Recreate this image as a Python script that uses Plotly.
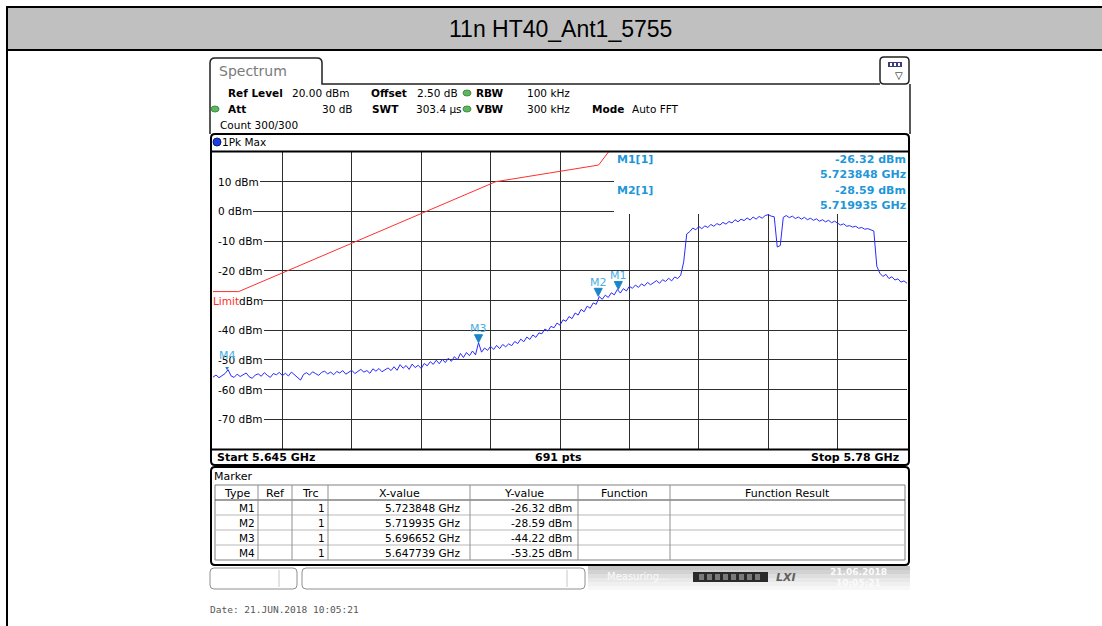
import numpy as np
import plotly.graph_objects as go

W, H = 1102, 626
FONT = "DejaVu Sans"
MONO = "DejaVu Sans Mono"
MARK_BLUE = "#1f97d9"
TRI_BLUE = "#1a86c8"

# ---- sweep definition -------------------------------------------------------
START_GHZ = 5.645
STOP_GHZ = 5.78
SWEEP_POINTS = 691
REF_LEVEL_DBM = 20
BOTTOM_DBM = -80

# Peak-hold trace (dBm), every third sweep point
trace_dbm = [
    -55.8, -55.1, -56.0, -55.2, -54.6, -53.3, -55.4, -55.9, -54.8, -55.6,
    -55.0, -54.4, -55.7, -56.2, -55.1, -54.7, -55.5, -54.3, -55.2, -55.9,
    -54.6, -55.0, -54.2, -55.3, -54.5, -55.4, -54.1, -55.0, -55.8, -56.8,
    -54.9, -54.3, -55.1, -54.0, -54.6, -55.2, -54.2, -53.8, -54.7, -54.1,
    -55.0, -53.9, -54.4, -53.6, -54.8, -54.2, -53.5, -54.6, -53.9, -53.2,
    -54.1, -53.6, -54.5, -53.0, -53.8, -52.9, -54.0, -53.4, -52.7, -53.6,
    -52.3, -53.5, -51.6, -52.8, -51.9, -53.2, -51.4, -52.6, -51.8, -52.9,
    -51.2, -52.0, -50.6, -51.5, -50.1, -51.3, -49.8, -50.9, -49.4, -50.5,
    -48.9, -50.0, -47.8, -49.2, -47.5, -48.6, -47.0, -48.3, -44.22, -47.4,
    -46.0, -46.8, -45.4, -46.5, -45.1, -46.2, -44.8, -45.6, -44.6, -45.2,
    -43.8, -44.5, -43.0, -43.9, -42.3, -43.1, -41.6, -42.4, -40.9, -41.2,
    -39.6, -40.3, -38.7, -39.2, -37.6, -38.3, -36.5, -37.0, -35.4, -36.1,
    -34.2, -34.9, -33.0, -33.8, -31.9, -32.6, -30.8, -31.3, -28.7, -29.6,
    -28.2, -29.0, -27.4, -28.1, -26.3, -27.5, -26.0, -26.8, -25.2, -25.9,
    -24.8, -25.6, -24.4, -25.1, -23.9, -24.7, -24.0, -23.3, -24.2, -23.0,
    -23.6, -22.5, -23.4, -22.1, -22.6, -21.5, -17.0, -7.6, -6.8, -5.6,
    -6.2, -5.1, -5.8, -4.9, -5.4, -4.4, -5.0, -4.1, -4.6, -3.7,
    -4.3, -3.4, -3.9, -2.8, -3.5, -2.6, -3.1, -2.2, -2.9, -1.9,
    -2.6, -1.7, -2.3, -1.4, -1.1, -1.6, -1.8, -12.0, -11.5, -2.0,
    -1.4, -2.1, -1.6, -2.4, -1.9, -2.6, -2.0, -2.8, -2.3, -3.0,
    -2.5, -3.3, -2.8, -3.5, -3.0, -3.8, -3.3, -4.1, -4.6, -4.2,
    -5.0, -4.8, -5.3, -5.0, -5.7, -5.4, -6.0, -5.8, -6.3, -6.6,
    -18.5, -20.8, -21.9, -21.2, -22.6, -22.0, -23.1, -22.7, -23.8, -23.4,
    -24.2,
]

# Band-edge emission limit line
limit_ghz = [5.645, 5.650, 5.700, 5.720, 5.725]
limit_dbm = [-27.0, -27.0, 10.0, 15.6, 27.0]

# Markers
marker_names = ["M1", "M2", "M3", "M4"]
marker_ghz = [5.723848, 5.719935, 5.696652, 5.647739]
marker_dbm = [-26.32, -28.59, -44.22, -53.25]

level_ticks = [10, 0, -10, -20, -30, -40, -50, -60, -70]

freq_ghz = np.linspace(START_GHZ, STOP_GHZ, SWEEP_POINTS)[::3][:len(trace_dbm)]

# ---- pixel helpers (paper coordinates span the whole page) ------------------
def fx(x):
    return x / W


def fy(y):
    return 1 - y / H


def gx(x):
    """pixel column -> frequency on the diagram axis"""
    return START_GHZ + (x - 213) / 694 * (STOP_GHZ - START_GHZ)


def gy(y):
    """pixel row -> level on the diagram axis"""
    return REF_LEVEL_DBM - (y - 152) / 297 * (REF_LEVEL_DBM - BOTTOM_DBM)


shapes = []
annotations = []


def text(x, y, s, size=11, color="black", bold=False, anchor="left",
         family=FONT, bg=None):
    annotations.append(dict(
        x=fx(x), y=fy(y), xref="paper", yref="paper",
        text=f"<b>{s}</b>" if bold else s, showarrow=False,
        xanchor=anchor, yanchor="middle", borderpad=0, borderwidth=0,
        font=dict(family=family, size=size, color=color),
        bgcolor=bg))


def line(x0, y0, x1, y1, color="black", width=1):
    shapes.append(dict(type="line", xref="paper", yref="paper",
                       x0=fx(x0), y0=fy(y0), x1=fx(x1), y1=fy(y1),
                       line=dict(color=color, width=width), layer="above"))


def rect(x0, y0, x1, y1, fill=None, color=None, width=1, layer="above"):
    shapes.append(dict(type="rect", xref="paper", yref="paper",
                       x0=fx(x0), y0=fy(y0), x1=fx(x1), y1=fy(y1),
                       fillcolor=fill or "rgba(0,0,0,0)",
                       line=dict(color=color or "rgba(0,0,0,0)",
                                 width=width if color else 0),
                       layer=layer))


def rrect(x0, y0, x1, y1, r, color="black", width=1, fill=None):
    p = (f"M {fx(x0 + r)},{fy(y0)} L {fx(x1 - r)},{fy(y0)} "
         f"Q {fx(x1)},{fy(y0)} {fx(x1)},{fy(y0 + r)} "
         f"L {fx(x1)},{fy(y1 - r)} Q {fx(x1)},{fy(y1)} {fx(x1 - r)},{fy(y1)} "
         f"L {fx(x0 + r)},{fy(y1)} Q {fx(x0)},{fy(y1)} {fx(x0)},{fy(y1 - r)} "
         f"L {fx(x0)},{fy(y0 + r)} Q {fx(x0)},{fy(y0)} {fx(x0 + r)},{fy(y0)} Z")
    shapes.append(dict(type="path", xref="paper", yref="paper", path=p,
                       fillcolor=fill or "rgba(0,0,0,0)",
                       line=dict(color=color, width=width), layer="above"))


def dot(cx, cy, rx, ry, fill, edge):
    shapes.append(dict(type="circle", xref="paper", yref="paper",
                       x0=fx(cx - rx), x1=fx(cx + rx), y0=fy(cy - ry), y1=fy(cy + ry),
                       fillcolor=fill, line=dict(color=edge, width=1), layer="above"))


def plot_mask(x0, y0, x1, y1):
    """white patch over the grid, beneath the traces"""
    shapes.append(dict(type="rect", xref="x", yref="y",
                       x0=gx(x0), x1=gx(x1), y0=gy(y1), y1=gy(y0),
                       fillcolor="white", line=dict(width=0), layer="between"))


# ---- page title band ---------------------------------------------------------
rect(7, 7, W + 2, 50, fill="#c0c0c0")
line(6, 7, W, 7, width=2)
line(6, 50, W, 50, width=2)
line(7, 6, 7, H, width=2)
text(560, 29, "11n HT40_Ant1_5755", size=23, family="Liberation Sans", anchor="center")

# ---- instrument header -------------------------------------------------------
tab = (f"M {fx(210)},{fy(134)} L {fx(210)},{fy(63)} Q {fx(210)},{fy(58)} {fx(215)},{fy(58)} "
       f"L {fx(317)},{fy(58)} Q {fx(322)},{fy(58)} {fx(322)},{fy(63)} L {fx(322)},{fy(84)} "
       f"L {fx(880)},{fy(84)}")
shapes.append(dict(type="path", xref="paper", yref="paper", path=tab,
                   line=dict(color="#202020", width=1.5), layer="above"))
line(910, 84, 910, 134, color="#202020", width=1.5)
rrect(880, 57, 909, 84, 4, color="#202020", width=1.5)
rect(888, 62, 902, 67, fill="#3c3c7c")
for cx in (891, 895, 899):
    rect(cx - 1, 63, cx + 1, 66, fill="white")
text(895, 75, "▽", size=10)
text(219, 71, "Spectrum", size=14, color="#7a7a7a")

HS = 10.5
text(228, 93, "Ref Level", bold=True, size=HS)
text(292, 93, f"{REF_LEVEL_DBM:.2f} dBm", size=HS)
text(371, 93, "Offset", bold=True, size=HS)
text(417, 93, "2.50 dB", size=HS)
text(476, 93, "RBW", bold=True, size=HS)
text(527, 93, "100 kHz", size=HS)
text(228, 109, "Att", bold=True, size=HS)
text(353, 109, "30 dB", anchor="right", size=HS)
text(372, 109, "SWT", bold=True, size=HS)
text(416, 109, "303.4 µs", size=HS)
text(476, 109, "VBW", bold=True, size=HS)
text(527, 109, "300 kHz", size=HS)
text(592, 109, "Mode", bold=True, size=HS)
text(632, 109, "Auto FFT", size=HS)
text(220, 125, "Count 300/300", size=HS)
for cx, cy in ((467, 93), (215, 109), (467, 109)):
    dot(cx, cy, 4, 3, "#62b462", "#3f8f3f")

# ---- diagram frame -----------------------------------------------------------
rrect(211, 134, 909, 465, 4, width=2)
line(211, 151.5, 909, 151.5, width=2)
line(211, 449.5, 909, 449.5, width=2)
dot(217, 142, 4, 4, "#1a3ee0", "#0a1a80")
text(222, 142, "1Pk Max", size=HS)
text(217, 457, f"Start {START_GHZ:g} GHz", bold=True)
text(558, 457, f"{SWEEP_POINTS} pts", bold=True, anchor="center")
text(899, 457, f"Stop {STOP_GHZ:g} GHz", bold=True, anchor="right")

# ---- marker table ------------------------------------------------------------
rrect(211, 467, 909, 565, 4, width=2)
text(214, 476, "Marker", size=11)
TY = [485, 500, 515, 530, 545, 560]
COLS = [215, 258, 292, 328, 470, 578, 670, 905]
rect(COLS[0], TY[0], COLS[-1], TY[-1], color="#808080")
line(COLS[0], TY[1], COLS[-1], TY[1], color="#404040")
for yy in TY[2:-1]:
    line(COLS[0], yy, COLS[-1], yy, color="#b8b8b8")
for xx in COLS[1:-1]:
    line(xx, TY[0], xx, TY[-1], color="#909090")
heads = ["Type", "Ref", "Trc", "X-value", "Y-value", "Function", "Function Result"]
for k, hname in enumerate(heads):
    text((COLS[k] + COLS[k + 1]) / 2, 493, hname, anchor="center")
for r, (nm, fg, lv) in enumerate(zip(marker_names, marker_ghz, marker_dbm)):
    yy = 508 + 15 * r
    text(255, yy, nm, anchor="right", size=HS)
    text(325, yy, "1", anchor="right", size=HS)
    text(460, yy, f"{fg:.6f} GHz", anchor="right", size=HS)
    text(572, yy, f"{lv:.2f} dBm", anchor="right", size=HS)

# ---- status bar --------------------------------------------------------------
rrect(210, 568, 297, 589, 4, color="#909090", width=1)
line(279, 570, 279, 587, color="#c8c8c8")
rrect(302, 568, 585, 589, 4, color="#909090", width=1)
line(567, 570, 567, 587, color="#c8c8c8")
grays = ["#c4c4c4", "#d2d2d2", "#dedede", "#e8e8e8", "#f0f0f0", "#f7f7f7"]
for k, g in enumerate(grays):
    rect(588, 566 + 4 * k, 910, 570 + 4 * k, fill=g)
text(607, 576, "Measuring...", size=10, color="#fafafa")
rect(693, 572, 768, 582, fill="#2a2a2a")
for k in range(8):
    rect(699 + 8 * k, 574, 704 + 8 * k, 580, fill="#7a7a7a")
text(786, 577, "<i>LXI</i>", size=11, color="#606060", bold=True, anchor="center")
text(858, 572, "21.06.2018", size=9, color="#fbfbfb", bold=True, anchor="center")
text(858, 583, "10:05:21", size=9, color="#fbfbfb", bold=True, anchor="center")

text(210, 609, "Date: 21.JUN.2018 10:05:21", size=9.5, color="#555555", family=MONO)

# ---- level labels on the grid -----------------------------------------------
plot_mask(213, 152, 218, 449)
for lv in level_ticks:
    label = f"{lv} dBm"
    lx, pad = 217, 1
    if lv == -30:
        label = '<span style="color:#ff2a2a">Limit</span>dBm'
        lx, pad = 213, 0
    annotations.append(dict(
        x=fx(lx), y=lv, xref="paper", yref="y",
        text=label, showarrow=False, xanchor="left", yanchor="middle",
        borderpad=pad, borderwidth=0, bgcolor="white",
        font=dict(family=FONT, size=10.5, color="black")))

# marker readout block (top right of the diagram)
plot_mask(614, 152, 907, 214)
for k in range(2):
    y0 = 159 + 31 * k
    text(617, y0, f"{marker_names[k]}[1]", bold=True, color=MARK_BLUE)
    text(906, y0, f"{marker_dbm[k]:.2f} dBm", bold=True, color=MARK_BLUE, anchor="right")
    text(906, y0 + 15.5, f"{marker_ghz[k]:.6f} GHz", bold=True, color=MARK_BLUE, anchor="right")

# marker flags on the trace
for nm, fg, lv in zip(marker_names, marker_ghz, marker_dbm):
    shapes.append(dict(type="path", xref="x", yref="y",
                       xsizemode="pixel", ysizemode="pixel",
                       xanchor=fg, yanchor=lv,
                       path="M -4,8 L 4,8 L 0,0 Z",
                       fillcolor=TRI_BLUE, line=dict(color=TRI_BLUE, width=1),
                       layer="above"))
    annotations.append(dict(
        x=fg, y=lv, xref="x", yref="y", text=nm, showarrow=False,
        xanchor="center", yanchor="middle", yshift=14,
        font=dict(family=FONT, size=11, color="#4aaee2")))

# ---- traces ------------------------------------------------------------------
fig = go.Figure()
fig.add_trace(go.Scatter(x=limit_ghz, y=limit_dbm, mode="lines",
                         line=dict(color="#ff3030", width=1), hoverinfo="skip"))
fig.add_trace(go.Scatter(x=freq_ghz, y=trace_dbm, mode="lines",
                         line=dict(color="#2a2aff", width=1), hoverinfo="skip"))

fig.update_layout(
    width=W, height=H,
    margin=dict(l=0, r=0, t=0, b=0, autoexpand=False),
    paper_bgcolor="white", plot_bgcolor="white",
    showlegend=False,
    shapes=shapes, annotations=annotations,
    xaxis=dict(domain=[213 / W, 907 / W], range=[START_GHZ, STOP_GHZ],
               tick0=START_GHZ, dtick=(STOP_GHZ - START_GHZ) / 10,
               showgrid=True, gridcolor="#2e2e2e", gridwidth=1,
               showticklabels=False, ticks="", zeroline=False, showline=False),
    yaxis=dict(domain=[1 - 449 / H, 1 - 152 / H],
               range=[BOTTOM_DBM, REF_LEVEL_DBM], tick0=0, dtick=10,
               showgrid=True, gridcolor="#2e2e2e", gridwidth=1,
               showticklabels=False, ticks="", zeroline=False, showline=False),
)

fig.write_html("out.html")
